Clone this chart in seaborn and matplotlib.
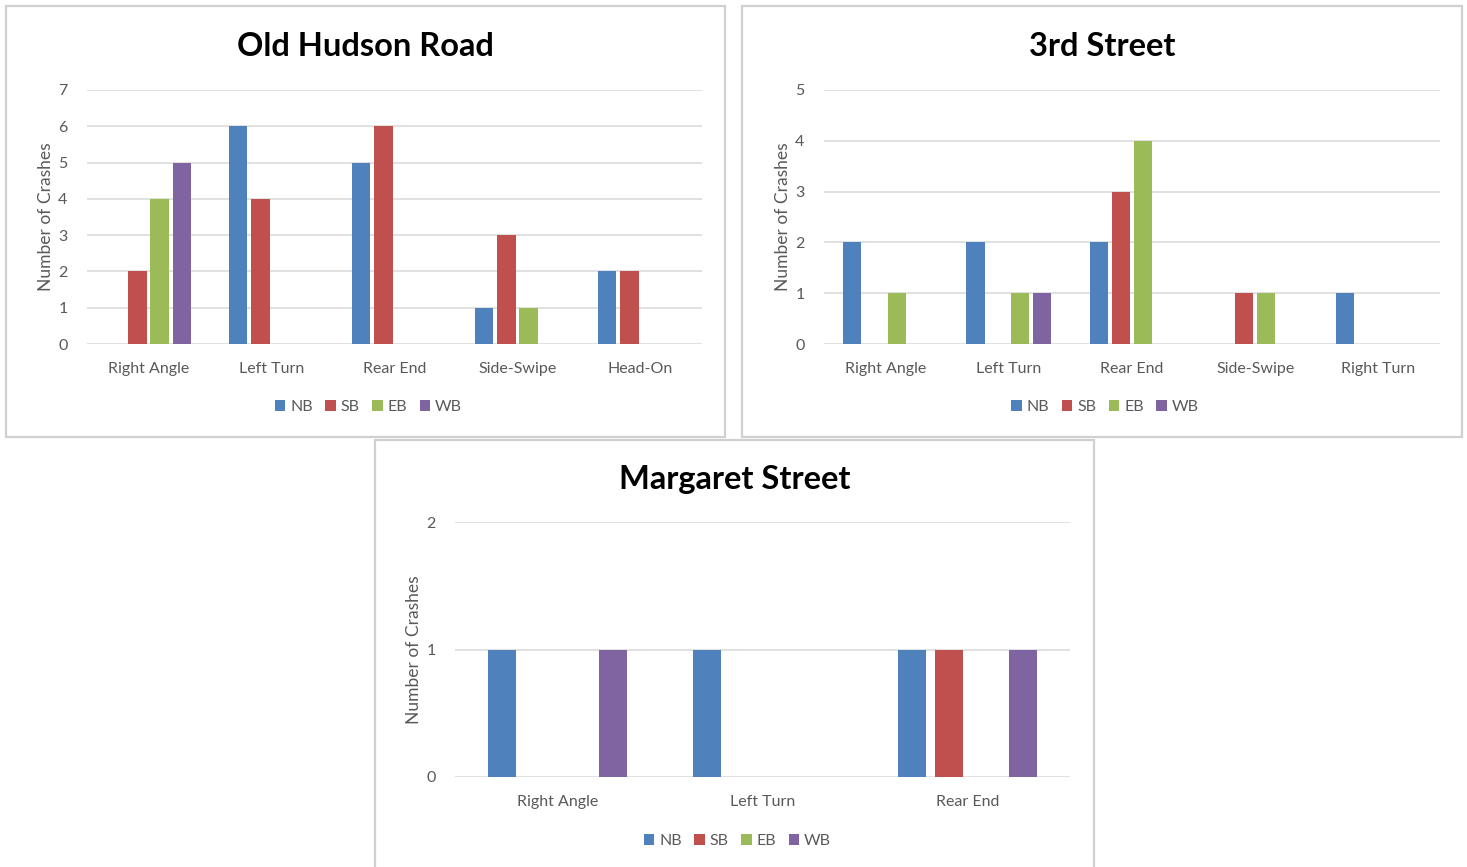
import matplotlib
matplotlib.use("Agg")
import matplotlib.pyplot as plt
from matplotlib.patches import Rectangle
import pandas as pd
import seaborn as sns

# Crash counts by collision type and direction of travel
directions = ["NB", "SB", "EB", "WB"]

old_hudson_types = ["Right Angle", "Left Turn", "Rear End", "Side-Swipe", "Head-On"]
old_hudson_nb = [0, 6, 5, 1, 2]
old_hudson_sb = [2, 4, 6, 3, 2]
old_hudson_eb = [4, 0, 0, 1, 0]
old_hudson_wb = [5, 0, 0, 0, 0]

third_types = ["Right Angle", "Left Turn", "Rear End", "Side-Swipe", "Right Turn"]
third_nb = [2, 2, 2, 0, 1]
third_sb = [0, 0, 3, 1, 0]
third_eb = [1, 1, 4, 1, 0]
third_wb = [0, 1, 0, 0, 0]

margaret_types = ["Right Angle", "Left Turn", "Rear End"]
margaret_nb = [1, 1, 1]
margaret_sb = [0, 0, 1]
margaret_eb = [0, 0, 0]
margaret_wb = [1, 0, 1]

palette = {"NB": "#4F81BD", "SB": "#C0504D", "EB": "#9BBB59", "WB": "#8064A2"}
TEXT_GRAY = "#595959"
GRID_GRAY = "#D9D9D9"


def long_table(types, nb, sb, eb, wb):
    rows = []
    for d, vals in zip(directions, [nb, sb, eb, wb]):
        for t, v in zip(types, vals):
            rows.append({"Type": t, "Direction": d, "Crashes": v})
    return pd.DataFrame(rows)


sns.set_theme(style="white")
plt.rcParams["font.family"] = ["Lato", "DejaVu Sans"]

W, H = 1467, 867
fig = plt.figure(figsize=(W / 100, H / 100), dpi=100)
fig.patch.set_facecolor("white")


def px_axes(x0, y_top, x1, y_bot):
    return fig.add_axes([x0 / W, 1 - y_bot / H, (x1 - x0) / W, (y_bot - y_top) / H])


def panel_box(x0, y0, x1, y1):
    fig.patches.append(Rectangle((x0 / W, 1 - y1 / H), (x1 - x0) / W, (y1 - y0) / H,
                                 transform=fig.transFigure, fill=False,
                                 edgecolor="#D0D0D0", linewidth=1.6, zorder=0))


def draw_panel(box, area, title, types, nb, sb, eb, wb, ymax, gap, title_y, legend_y):
    panel_box(*box)
    ax = px_axes(*area)
    df = long_table(types, nb, sb, eb, wb)
    sns.barplot(data=df, x="Type", y="Crashes", hue="Direction", order=types,
                hue_order=directions, palette=palette, saturation=1, width=0.72,
                gap=gap, linewidth=0, ax=ax, zorder=3)
    ax.set_ylim(0, ymax)
    ax.set_xlim(-0.5, len(types) - 0.5)
    ax.set_yticks(range(0, ymax + 1))
    ax.grid(axis="y", color=GRID_GRAY, linewidth=1.1, zorder=0)
    ax.set_axisbelow(True)
    for s in ax.spines.values():
        s.set_visible(False)
    ax.tick_params(axis="both", length=0, labelcolor=TEXT_GRAY, labelsize=11.5)
    ax.tick_params(axis="y", pad=14)
    ax.tick_params(axis="x", pad=13)
    ax.set_xlabel("")
    ax.set_ylabel("Number of Crashes", color=TEXT_GRAY, fontsize=12.5, labelpad=3)
    # Title and legend are centred on the panel box
    cx = (box[0] + box[2]) / 2
    fig.text(cx / W, 1 - title_y / H, title, ha="center", va="center",
             fontsize=23.5, fontweight="bold", color="black")
    ax_w = area[2] - area[0]
    lx = (cx + 3 - area[0]) / ax_w
    ly = 1 - (legend_y - area[1]) / (area[3] - area[1])
    sns.move_legend(ax, "center", bbox_to_anchor=(lx, ly),
                    ncol=4, frameon=False, title=None, fontsize=11.5,
                    handlelength=0.65, handleheight=0.65, handletextpad=0.3,
                    columnspacing=0.8)
    for t in ax.get_legend().get_texts():
        t.set_color(TEXT_GRAY)
    return ax


draw_panel((6, 6, 725, 437), (87, 90, 702, 344), "Old Hudson Road",
           old_hudson_types, old_hudson_nb, old_hudson_sb, old_hudson_eb, old_hudson_wb,
           7, 0.18, 46, 407)
draw_panel((742, 6, 1462, 437), (824, 90, 1440, 344), "3rd Street",
           third_types, third_nb, third_sb, third_eb, third_wb,
           5, 0.18, 46, 407)
draw_panel((375, 440, 1094, 870), (455, 522, 1070, 777), "Margaret Street",
           margaret_types, margaret_nb, margaret_sb, margaret_eb, margaret_wb,
           2, 0.24, 479, 841)

fig.savefig("out.png", dpi=100, facecolor="white")
